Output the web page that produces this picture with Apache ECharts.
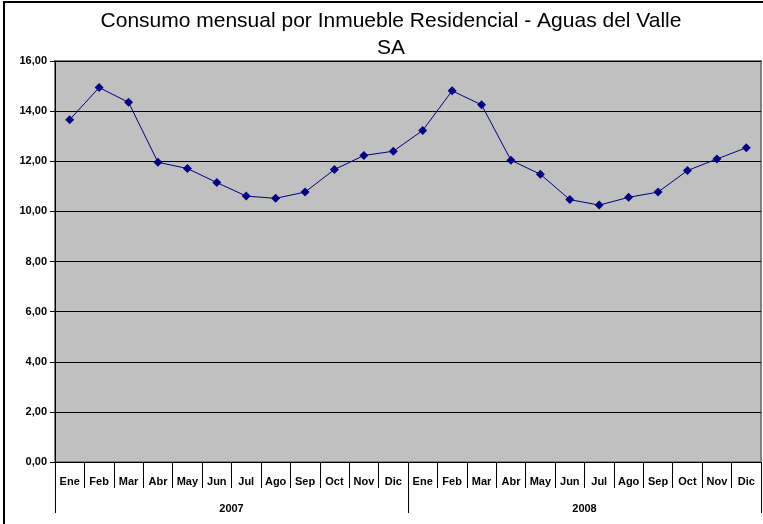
<!DOCTYPE html>
<html>
<head>
<meta charset="utf-8">
<script src="https://cdn.jsdelivr.net/npm/echarts@6/dist/echarts.min.js"></script>
<style>
  html, body { margin: 0; padding: 0; background: #fff; }
  #main { width: 763px; height: 524px; }
</style>
</head>
<body>
<div id="main"></div>
<script>
// datos
var meses = ['Ene', 'Feb', 'Mar', 'Abr', 'May', 'Jun', 'Jul', 'Ago', 'Sep', 'Oct', 'Nov', 'Dic'];
var anios = ['2007', '2008'];
var consumo2007 = [13.66, 14.94, 14.35, 11.96, 11.71, 11.15, 10.61, 10.52, 10.77, 11.67, 12.23, 12.40];
var consumo2008 = [13.23, 14.81, 14.25, 12.04, 11.48, 10.47, 10.25, 10.56, 10.77, 11.63, 12.09, 12.54];

(function () {
    var myChart = echarts.init(document.getElementById('main'));
    var categorias = meses.concat(meses);
    var valores = consumo2007.concat(consumo2008);
    var fuente = 'Liberation Sans, Arial, sans-serif';

    var option = {
        animation: false,
        graphic: [
            { type: 'line', shape: { x1: 4, y1: 1, x2: 4, y2: 524 }, style: { stroke: '#000', lineWidth: 2 } },
            { type: 'line', shape: { x1: 3, y1: 2, x2: 763, y2: 2 }, style: { stroke: '#000', lineWidth: 2 } },
            {
                type: 'text',
                x: 391,
                y: 8,
                style: {
                    text: 'Consumo mensual por Inmueble Residencial - Aguas del Valle\nSA',
                    align: 'center',
                    verticalAlign: 'top',
                    font: 'normal 21px Liberation Sans, Arial, sans-serif',
                    lineHeight: 27,
                    fill: '#000'
                }
            }
        ],
        grid: {
            left: 55,
            right: 2,
            top: 61,
            bottom: 62,
            show: true,
            backgroundColor: '#c0c0c0',
            borderColor: '#808080',
            borderWidth: 2
        },
        xAxis: [
            {
                type: 'category',
                data: categorias,
                position: 'bottom',
                axisLine: { show: true, lineStyle: { color: '#000', width: 1 } },
                axisTick: { show: true, interval: 0, length: 26, lineStyle: { color: '#000', width: 1 } },
                axisLabel: {
                    interval: 0,
                    margin: 14,
                    fontFamily: fuente,
                    fontSize: 11,
                    fontWeight: 'bold',
                    color: '#000'
                }
            },
            {
                type: 'category',
                data: anios,
                position: 'bottom',
                offset: 26,
                axisLine: { show: false },
                axisTick: { show: true, interval: 0, length: 25, lineStyle: { color: '#000', width: 1 } },
                axisLabel: {
                    margin: 15,
                    fontFamily: fuente,
                    fontSize: 11,
                    fontWeight: 'bold',
                    color: '#000'
                }
            }
        ],
        yAxis: {
            type: 'value',
            min: 0,
            max: 16,
            interval: 2,
            axisLine: { show: true, lineStyle: { color: '#000' } },
            axisTick: { show: true, length: 5, lineStyle: { color: '#000' } },
            axisLabel: {
                margin: 8,
                fontFamily: fuente,
                fontSize: 11,
                fontWeight: 'bold',
                color: '#000',
                formatter: function (v) { return v.toFixed(2).replace('.', ','); }
            },
            splitLine: { lineStyle: { color: '#000', width: 1 } }
        },
        series: [
            {
                type: 'line',
                data: valores,
                xAxisIndex: 0,
                symbol: 'diamond',
                symbolSize: 9,
                itemStyle: { color: '#000080' },
                lineStyle: { color: '#000080', width: 1 }
            }
        ]
    };
    myChart.setOption(option);
})();
</script>
</body>
</html>
